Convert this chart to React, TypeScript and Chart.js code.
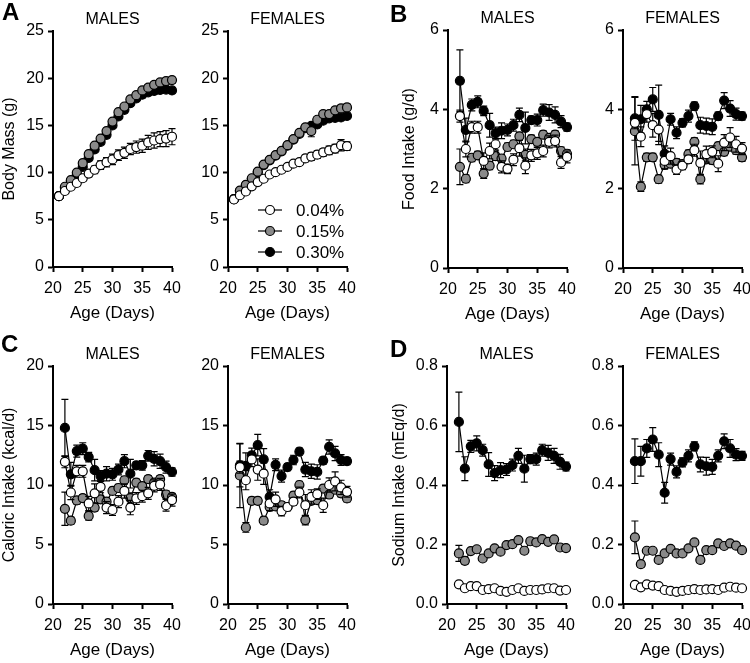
import React, { useEffect, useRef } from 'react';
import { Chart, registerables } from 'chart.js';

Chart.register(...registerables);

const FONT = '"Liberation Sans", Arial, Helvetica, sans-serif';

// ---------- DATA ----------
const DAYS_MASS = [21, 22, 23, 24, 25, 26, 27, 28, 29, 30, 31, 32, 33, 34, 35, 36, 37, 38, 39, 40];
const DAYS_INTAKE = [22, 23, 24, 25, 26, 27, 28, 29, 30, 31, 32, 33, 34, 35, 36, 37, 38, 39, 40];

const LEGEND_LABELS = ['0.04%', '0.15%', '0.30%'];

// A: Body mass (g)
const BM_M_LOW = [7.5, 8.05, 8.5, 8.9, 9.4, 9.9, 10.3, 10.8, 11.1, 11.4, 11.85, 12.1, 12.5, 12.7, 12.85, 13.2, 13.4, 13.55, 13.6, 13.8];
const BM_M_LOW_ERR = [0.2, 0.2, 0.25, 0.3, 0.3, 0.35, 0.4, 0.45, 0.5, 0.55, 0.55, 0.6, 0.6, 0.65, 0.7, 0.75, 0.8, 0.8, 0.85, 0.85];
const BM_M_MID = [7.5, 8.5, 9.2, 10.0, 11.0, 11.95, 12.85, 13.6, 14.4, 15.4, 16.4, 17.0, 17.75, 18.2, 18.7, 19.0, 19.3, 19.55, 19.7, 19.8];
const BM_M_MID_ERR = [0.2, 0.2, 0.25, 0.25, 0.3, 0.3, 0.3, 0.3, 0.3, 0.3, 0.3, 0.3, 0.3, 0.3, 0.3, 0.3, 0.3, 0.3, 0.3, 0.3];
const BM_M_HIGH = [7.5, 8.4, 9.1, 9.75, 10.6, 11.55, 12.45, 13.25, 14.0, 15.0, 15.95, 16.65, 17.35, 17.85, 18.25, 18.5, 18.65, 18.75, 18.8, 18.7];
const BM_M_HIGH_ERR = [0.2, 0.2, 0.2, 0.25, 0.25, 0.25, 0.25, 0.25, 0.3, 0.3, 0.3, 0.3, 0.3, 0.3, 0.3, 0.3, 0.3, 0.3, 0.3, 0.3];

const BM_F_LOW = [7.15, 7.6, 8.0, 8.55, 9.0, 9.35, 9.8, 10.05, 10.3, 10.6, 10.95, 11.1, 11.5, 11.7, 11.9, 12.15, 12.35, 12.55, 12.9, 12.8];
const BM_F_LOW_ERR = [0.15, 0.15, 0.2, 0.2, 0.2, 0.2, 0.25, 0.25, 0.25, 0.3, 0.3, 0.3, 0.35, 0.4, 0.4, 0.4, 0.45, 0.45, 0.6, 0.45];
const BM_F_MID = [7.2, 8.1, 8.7, 9.4, 10.1, 10.85, 11.35, 11.85, 12.3, 12.9, 13.55, 14.2, 14.8, 14.4, 15.6, 16.2, 16.2, 16.6, 16.8, 16.9];
const BM_F_MID_ERR = [0.15, 0.2, 0.2, 0.2, 0.25, 0.25, 0.25, 0.25, 0.25, 0.25, 0.3, 0.3, 0.3, 0.6, 0.3, 0.3, 0.3, 0.3, 0.35, 0.35];
const BM_F_HIGH = [7.2, 8.05, 8.65, 9.35, 10.05, 10.8, 11.3, 11.8, 12.25, 12.85, 13.5, 14.1, 14.7, 14.95, 15.1, 15.5, 15.75, 15.8, 15.85, 16.0];
const BM_F_HIGH_ERR = [0.15, 0.2, 0.2, 0.2, 0.2, 0.2, 0.25, 0.25, 0.25, 0.25, 0.25, 0.25, 0.25, 0.25, 0.25, 0.25, 0.25, 0.25, 0.25, 0.25];

// B: Food intake (g/d)
const FI_M_LOW = [3.83, 3.0, 3.55, 3.55, 2.7, 2.95, 3.12, 2.55, 2.5, 2.73, 3.02, 2.58, 2.84, 2.89, 2.95, 3.18, 3.2, 2.66, 2.8];
const FI_M_LOW_ERR = [0.15, 0.2, 0.15, 0.15, 0.2, 0.2, 0.15, 0.15, 0.12, 0.15, 0.2, 0.2, 0.15, 0.15, 0.15, 0.15, 0.15, 0.15, 0.15];
const FI_M_MID = [2.55, 2.25, 2.78, 2.84, 2.38, 2.58, 2.82, 2.76, 3.05, 3.12, 3.32, 2.85, 3.25, 3.18, 3.36, 3.28, 3.36, 2.95, 2.88];
const FI_M_MID_ERR = [0.45, 0.1, 0.1, 0.1, 0.12, 0.1, 0.1, 0.1, 0.1, 0.1, 0.1, 0.15, 0.1, 0.1, 0.1, 0.1, 0.1, 0.1, 0.1];
const FI_M_HIGH = [4.72, 3.48, 4.11, 4.19, 3.96, 3.6, 3.4, 3.46, 3.48, 3.6, 3.86, 3.53, 3.73, 3.73, 3.98, 3.92, 3.86, 3.69, 3.55];
const FI_M_HIGH_ERR = [0.78, 0.3, 0.15, 0.15, 0.12, 0.3, 0.15, 0.2, 0.15, 0.15, 0.17, 0.4, 0.1, 0.15, 0.15, 0.2, 0.2, 0.15, 0.1];

const FI_F_LOW = [3.66, 3.31, 3.88, 3.6, 3.49, 2.7, 2.82, 2.48, 2.58, 2.74, 2.97, 2.65, 2.87, 2.93, 2.63, 3.16, 3.29, 3.12, 3.01];
const FI_F_LOW_ERR = [0.15, 0.25, 0.2, 0.3, 0.3, 0.2, 0.2, 0.12, 0.1, 0.1, 0.15, 0.3, 0.2, 0.15, 0.2, 0.2, 0.25, 0.2, 0.15];
const FI_F_MID = [3.45, 2.05, 2.79, 2.79, 2.24, 2.6, 2.63, 2.65, 2.62, 2.87, 3.18, 2.24, 2.74, 2.72, 3.07, 2.93, 3.06, 2.97, 2.79];
const FI_F_MID_ERR = [0.85, 0.12, 0.1, 0.1, 0.1, 0.1, 0.1, 0.1, 0.1, 0.1, 0.1, 0.12, 0.1, 0.1, 0.1, 0.1, 0.1, 0.1, 0.1];
const FI_F_HIGH = [3.77, 3.75, 4.0, 4.25, 3.86, 2.88, 3.75, 3.41, 3.66, 3.83, 4.08, 3.6, 3.58, 3.56, 3.83, 4.22, 4.02, 3.88, 3.83];
const FI_F_HIGH_ERR = [0.55, 0.35, 0.2, 0.3, 0.75, 0.2, 0.15, 0.15, 0.1, 0.15, 0.1, 0.2, 0.2, 0.2, 0.1, 0.2, 0.2, 0.15, 0.1];

// C: Caloric intake (kcal/d)
const CI_M_LOW = [11.95, 9.37, 11.15, 11.15, 8.45, 9.3, 9.85, 8.1, 7.9, 8.6, 9.5, 8.1, 8.87, 9.06, 9.3, 9.93, 10.05, 8.3, 8.73];
const CI_M_LOW_ERR = [0.5, 0.6, 0.5, 0.5, 0.6, 0.8, 0.5, 0.5, 0.45, 0.5, 0.6, 0.6, 0.5, 0.5, 0.5, 0.5, 0.5, 0.5, 0.5];
const CI_M_MID = [8.0, 7.0, 8.7, 8.9, 7.4, 8.1, 8.8, 8.6, 9.5, 9.75, 10.4, 8.9, 10.2, 9.9, 10.5, 10.2, 10.5, 9.2, 9.0];
const CI_M_MID_ERR = [1.4, 0.3, 0.3, 0.3, 0.35, 0.3, 0.3, 0.3, 0.3, 0.3, 0.3, 0.45, 0.3, 0.3, 0.3, 0.3, 0.3, 0.3, 0.3];
const CI_M_HIGH = [14.8, 10.9, 12.85, 13.05, 12.35, 11.25, 10.75, 10.95, 10.9, 11.3, 12.0, 10.95, 11.65, 11.65, 12.45, 12.2, 12.0, 11.5, 11.1];
const CI_M_HIGH_ERR = [2.4, 1.0, 0.5, 0.5, 0.4, 0.9, 0.45, 0.6, 0.5, 0.45, 0.55, 1.2, 0.3, 0.4, 0.45, 0.6, 0.6, 0.5, 0.35];

const CI_F_LOW = [11.5, 10.4, 12.15, 11.3, 10.95, 8.45, 8.8, 7.8, 8.15, 8.6, 9.37, 8.3, 9.0, 9.23, 8.3, 10.0, 10.3, 9.8, 9.43];
const CI_F_LOW_ERR = [0.5, 0.8, 0.6, 0.9, 0.9, 0.6, 0.6, 0.4, 0.3, 0.3, 0.45, 0.9, 0.6, 0.45, 0.6, 0.6, 0.8, 0.6, 0.45];
const CI_F_MID = [10.8, 6.43, 8.67, 8.67, 7.0, 8.15, 8.2, 8.3, 8.15, 9.1, 10.0, 7.05, 8.67, 8.73, 9.7, 9.2, 9.6, 9.3, 8.87];
const CI_F_MID_ERR = [2.7, 0.4, 0.3, 0.3, 0.3, 0.3, 0.3, 0.3, 0.3, 0.3, 0.3, 0.4, 0.3, 0.3, 0.3, 0.3, 0.3, 0.3, 0.3];
const CI_F_HIGH = [11.65, 11.6, 12.5, 13.35, 12.15, 9.0, 11.7, 10.75, 11.5, 12.1, 12.8, 11.3, 11.15, 11.1, 12.05, 13.2, 12.65, 12.1, 12.0];
const CI_F_HIGH_ERR = [1.8, 1.1, 0.6, 0.9, 0.9, 0.6, 0.5, 0.5, 0.3, 0.4, 0.3, 0.6, 0.6, 0.6, 0.3, 0.6, 0.6, 0.45, 0.3];

// D: Sodium intake (mEq/d)
const SI_M_LOW = [0.066, 0.053, 0.06, 0.06, 0.047, 0.05, 0.053, 0.044, 0.041, 0.047, 0.053, 0.044, 0.047, 0.047, 0.049, 0.053, 0.053, 0.045, 0.047];
const SI_M_LOW_ERR = [0.004, 0.004, 0.004, 0.004, 0.004, 0.004, 0.004, 0.004, 0.004, 0.004, 0.004, 0.004, 0.004, 0.004, 0.004, 0.004, 0.004, 0.004, 0.004];
const SI_M_MID = [0.17, 0.145, 0.178, 0.184, 0.153, 0.17, 0.187, 0.176, 0.198, 0.201, 0.215, 0.179, 0.211, 0.207, 0.218, 0.209, 0.217, 0.19, 0.188];
const SI_M_MID_ERR = [0.027, 0.01, 0.008, 0.008, 0.008, 0.008, 0.008, 0.008, 0.008, 0.008, 0.008, 0.01, 0.008, 0.008, 0.008, 0.008, 0.008, 0.008, 0.008];
const SI_M_HIGH = [0.612, 0.455, 0.53, 0.54, 0.517, 0.469, 0.44, 0.45, 0.452, 0.467, 0.498, 0.455, 0.487, 0.487, 0.517, 0.508, 0.498, 0.478, 0.462];
const SI_M_HIGH_ERR = [0.1, 0.04, 0.02, 0.025, 0.02, 0.04, 0.025, 0.025, 0.02, 0.02, 0.025, 0.045, 0.015, 0.02, 0.02, 0.025, 0.025, 0.025, 0.015];

const SI_F_LOW = [0.064, 0.056, 0.066, 0.062, 0.06, 0.047, 0.044, 0.041, 0.044, 0.047, 0.05, 0.047, 0.049, 0.05, 0.047, 0.055, 0.058, 0.055, 0.053];
const SI_F_LOW_ERR = [0.005, 0.004, 0.004, 0.004, 0.004, 0.004, 0.004, 0.004, 0.004, 0.004, 0.004, 0.004, 0.004, 0.004, 0.004, 0.004, 0.004, 0.004, 0.004];
const SI_F_MID = [0.224, 0.134, 0.179, 0.179, 0.148, 0.17, 0.185, 0.17, 0.17, 0.187, 0.207, 0.148, 0.181, 0.181, 0.204, 0.195, 0.204, 0.196, 0.181];
const SI_F_MID_ERR = [0.055, 0.01, 0.008, 0.008, 0.008, 0.008, 0.008, 0.008, 0.008, 0.008, 0.008, 0.01, 0.008, 0.008, 0.008, 0.008, 0.008, 0.008, 0.008];
const SI_F_HIGH = [0.48, 0.48, 0.523, 0.553, 0.502, 0.374, 0.487, 0.444, 0.476, 0.498, 0.53, 0.469, 0.463, 0.461, 0.498, 0.547, 0.523, 0.502, 0.498];
const SI_F_HIGH_ERR = [0.075, 0.05, 0.03, 0.04, 0.04, 0.035, 0.02, 0.02, 0.015, 0.02, 0.015, 0.025, 0.03, 0.025, 0.02, 0.025, 0.03, 0.02, 0.015];

// ---------- STYLE ----------
const COLORS = ['#ffffff', '#8a8a8a', '#000000'];
const Y_W = 60; // y-axis box width
const X_H = 58; // x-axis box height
const PAD_T = 30;
const PAD_R = 16;
const PLOT_W = 119;
const POINT_R = 4.5;

type Series = { values: number[]; errors: number[] };
type PanelDef = {
  key: string;
  left: number;
  top: number;
  height: number;
  title: string;
  yTitle?: string;
  yTitlePad: number;
  yMax: number;
  yStep: number;
  yDecimals: number;
  days: number[];
  series: Series[];
  legend?: boolean;
};

const PANELS: PanelDef[] = [
  { key: 'am', left: 53, top: 31, height: 236, title: 'MALES', yTitle: 'Body Mass (g)', yTitlePad: 7, yMax: 25, yStep: 5, yDecimals: 0, days: DAYS_MASS,
    series: [{ values: BM_M_LOW, errors: BM_M_LOW_ERR }, { values: BM_M_MID, errors: BM_M_MID_ERR }, { values: BM_M_HIGH, errors: BM_M_HIGH_ERR }] },
  { key: 'af', left: 228, top: 31, height: 236, title: 'FEMALES', yTitlePad: 0, yMax: 25, yStep: 5, yDecimals: 0, days: DAYS_MASS, legend: true,
    series: [{ values: BM_F_LOW, errors: BM_F_LOW_ERR }, { values: BM_F_MID, errors: BM_F_MID_ERR }, { values: BM_F_HIGH, errors: BM_F_HIGH_ERR }] },
  { key: 'bm', left: 448, top: 30, height: 238, title: 'MALES', yTitle: 'Food Intake (g/d)', yTitlePad: 12, yMax: 6, yStep: 2, yDecimals: 0, days: DAYS_INTAKE,
    series: [{ values: FI_M_LOW, errors: FI_M_LOW_ERR }, { values: FI_M_MID, errors: FI_M_MID_ERR }, { values: FI_M_HIGH, errors: FI_M_HIGH_ERR }] },
  { key: 'bf', left: 623, top: 30, height: 238, title: 'FEMALES', yTitlePad: 0, yMax: 6, yStep: 2, yDecimals: 0, days: DAYS_INTAKE,
    series: [{ values: FI_F_LOW, errors: FI_F_LOW_ERR }, { values: FI_F_MID, errors: FI_F_MID_ERR }, { values: FI_F_HIGH, errors: FI_F_HIGH_ERR }] },
  { key: 'cm', left: 53, top: 366, height: 238, title: 'MALES', yTitle: 'Caloric Intake (kcal/d)', yTitlePad: 7, yMax: 20, yStep: 5, yDecimals: 0, days: DAYS_INTAKE,
    series: [{ values: CI_M_LOW, errors: CI_M_LOW_ERR }, { values: CI_M_MID, errors: CI_M_MID_ERR }, { values: CI_M_HIGH, errors: CI_M_HIGH_ERR }] },
  { key: 'cf', left: 228, top: 366, height: 238, title: 'FEMALES', yTitlePad: 0, yMax: 20, yStep: 5, yDecimals: 0, days: DAYS_INTAKE,
    series: [{ values: CI_F_LOW, errors: CI_F_LOW_ERR }, { values: CI_F_MID, errors: CI_F_MID_ERR }, { values: CI_F_HIGH, errors: CI_F_HIGH_ERR }] },
  { key: 'dm', left: 447, top: 366, height: 238, title: 'MALES', yTitle: 'Sodium Intake (mEq/d)', yTitlePad: 3, yMax: 0.8, yStep: 0.2, yDecimals: 1, days: DAYS_INTAKE,
    series: [{ values: SI_M_LOW, errors: SI_M_LOW_ERR }, { values: SI_M_MID, errors: SI_M_MID_ERR }, { values: SI_M_HIGH, errors: SI_M_HIGH_ERR }] },
  { key: 'df', left: 623, top: 366, height: 238, title: 'FEMALES', yTitlePad: 0, yMax: 0.8, yStep: 0.2, yDecimals: 1, days: DAYS_INTAKE,
    series: [{ values: SI_F_LOW, errors: SI_F_LOW_ERR }, { values: SI_F_MID, errors: SI_F_MID_ERR }, { values: SI_F_HIGH, errors: SI_F_HIGH_ERR }] },
];

const LETTERS = [
  { t: 'A', left: 2, top: 0 },
  { t: 'B', left: 390, top: 2 },
  { t: 'C', left: 1, top: 332 },
  { t: 'D', left: 390, top: 337 },
];

const errorBarPlugin = {
  id: 'errorBars',
  beforeDatasetDraw(chart: any, args: any) {
    const ds: any = chart.data.datasets[args.index];
    const meta = chart.getDatasetMeta(args.index);
    const ys = chart.scales.y;
    const ctx = chart.ctx;
    ctx.save();
    ctx.strokeStyle = '#000';
    ctx.lineWidth = 1.2;
    meta.data.forEach((pt: any, i: number) => {
      const e = ds.errors[i];
      const v = ds.data[i].y;
      if (!e) return;
      const x = pt.x;
      const yT = ys.getPixelForValue(v + e);
      const yB = ys.getPixelForValue(Math.max(0, v - e));
      ctx.beginPath();
      ctx.moveTo(x, yT);
      ctx.lineTo(x, yB);
      ctx.moveTo(x - 3.5, yT);
      ctx.lineTo(x + 3.5, yT);
      ctx.moveTo(x - 3.5, yB);
      ctx.lineTo(x + 3.5, yB);
      ctx.stroke();
    });
    ctx.restore();
  },
};

function Panel({ def }: { def: PanelDef }) {
  const ref = useRef<HTMLCanvasElement>(null);
  const W = Y_W + PLOT_W + PAD_R;
  const H = PAD_T + def.height + X_H;

  useEffect(() => {
    const canvas = ref.current!;
    const titlePlugin = {
      id: 'panelTitle',
      afterDraw(chart: any) {
        const { ctx, chartArea } = chart;
        ctx.save();
        ctx.font = `16px ${FONT}`;
        ctx.fillStyle = '#000';
        ctx.textAlign = 'center';
        ctx.textBaseline = 'middle';
        ctx.fillText(def.title, (chartArea.left + chartArea.right) / 2, chartArea.top - 11);
        ctx.restore();
      },
    };
    const legendPlugin = {
      id: 'innerLegend',
      afterDraw(chart: any) {
        if (!def.legend) return;
        const { ctx, chartArea } = chart;
        const L = chartArea.left;
        const T = chartArea.top;
        const rows = [179, 200, 221];
        ctx.save();
        LEGEND_LABELS.forEach((lab, i) => {
          const y = T + rows[i];
          ctx.strokeStyle = '#000';
          ctx.lineWidth = 1.2;
          ctx.beginPath();
          ctx.moveTo(L + 30, y);
          ctx.lineTo(L + 54, y);
          ctx.stroke();
          ctx.beginPath();
          ctx.arc(L + 42, y, POINT_R, 0, Math.PI * 2);
          ctx.fillStyle = COLORS[i];
          ctx.fill();
          ctx.stroke();
          ctx.fillStyle = '#000';
          ctx.font = `17px ${FONT}`;
          ctx.textAlign = 'left';
          ctx.textBaseline = 'middle';
          ctx.fillText(lab, L + 68, y + 1);
        });
        ctx.restore();
      },
    };

    const datasets = def.series.map((s, i) => ({
      label: LEGEND_LABELS[i],
      data: def.days.map((d, j) => ({ x: d, y: s.values[j] })),
      errors: s.errors,
      borderColor: '#000',
      borderWidth: 1.2,
      pointBackgroundColor: COLORS[i],
      pointBorderColor: '#000',
      pointBorderWidth: 1.2,
      pointRadius: POINT_R,
      pointHoverRadius: POINT_R,
      fill: false,
      tension: 0,
      clip: false as any,
    }));

    const axisGrid = {
      display: true,
      drawOnChartArea: false,
      drawTicks: true,
      tickLength: 5,
      tickWidth: 2,
      tickColor: '#000',
    };
    const axisBorder = { display: true, color: '#000', width: 2 };

    const chart = new Chart(canvas, {
      type: 'line',
      data: { datasets: datasets as any },
      options: {
        responsive: false,
        animation: false,
        devicePixelRatio: 1,
        events: [],
        layout: { padding: { left: 0, right: PAD_R, top: PAD_T, bottom: 0 } },
        plugins: {
          legend: { display: false },
          tooltip: { enabled: false },
        },
        scales: {
          x: {
            type: 'linear',
            min: 20,
            max: 40,
            afterFit: (s: any) => { s.height = X_H; },
            ticks: {
              stepSize: 5,
              color: '#000',
              font: { family: FONT, size: 16 },
              padding: 7,
              maxRotation: 0,
              autoSkip: false,
            },
            grid: axisGrid as any,
            border: axisBorder as any,
            title: {
              display: true,
              text: 'Age (Days)',
              color: '#000',
              font: { family: FONT, size: 17 },
              padding: { top: 0, bottom: 1 },
            },
          },
          y: {
            type: 'linear',
            min: 0,
            max: def.yMax,
            afterFit: (s: any) => { s.width = Y_W; },
            ticks: {
              stepSize: def.yStep,
              color: '#000',
              font: { family: FONT, size: 16 },
              padding: 4,
              autoSkip: false,
              callback: (v: any) => Number(v).toFixed(def.yDecimals),
            },
            grid: axisGrid as any,
            border: axisBorder as any,
            title: {
              display: !!def.yTitle,
              text: def.yTitle || '',
              color: '#000',
              font: { family: FONT, size: 16 },
              padding: { top: def.yTitlePad, bottom: 0 },
            },
          },
        },
      },
      plugins: [errorBarPlugin, titlePlugin, legendPlugin],
    });
    return () => chart.destroy();
  }, []);

  return (
    <canvas
      ref={ref}
      width={W}
      height={H}
      style={{ position: 'absolute', left: def.left - Y_W, top: def.top - PAD_T, width: W, height: H }}
    />
  );
}

export default function App() {
  return (
    <div style={{ position: 'absolute', left: 0, top: 0, width: 750, height: 663, background: '#fff', overflow: 'hidden' }}>
      {PANELS.map((p) => (
        <Panel key={p.key} def={p} />
      ))}
      {LETTERS.map((l) => (
        <div
          key={l.t}
          style={{ position: 'absolute', left: l.left, top: l.top, fontFamily: FONT, fontWeight: 'bold', fontSize: 24, lineHeight: '24px', color: '#000' }}
        >
          {l.t}
        </div>
      ))}
    </div>
  );
}
